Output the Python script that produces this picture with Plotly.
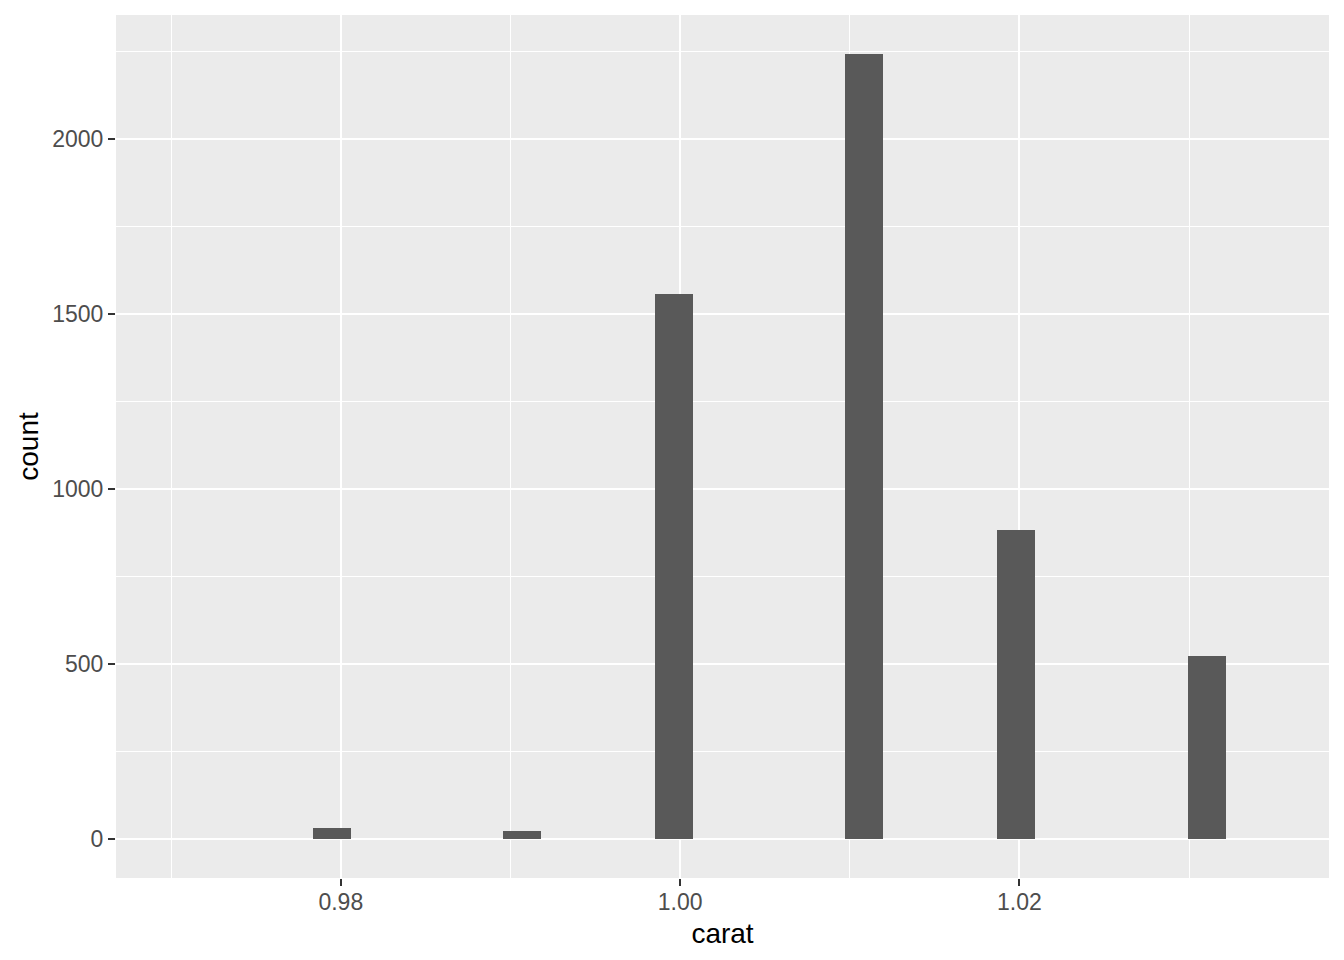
import plotly.graph_objects as go

# diamonds with carat between 0.97 and 1.035, counts per carat value
carat = [0.98, 0.99, 1.00, 1.01, 1.02, 1.03]
count = [31, 23, 1558, 2242, 883, 523]

# binning as ggplot stat_bin(bins = 30) over the limits 0.97 .. 1.035
x_lim = [0.97, 1.035]
n_bins = 30
bin_w = (x_lim[1] - x_lim[0]) / (n_bins - 1)
shift = int((x_lim[0] - bin_w / 2) // bin_w)
bin_start = bin_w / 2 + shift * bin_w

x_pad = (x_lim[1] - x_lim[0]) * 0.05
y_top = max(count)
y_pad = y_top * 0.05

font = "Liberation Sans, Arial, sans-serif"

hist = go.Histogram(
    x=carat,
    y=count,
    histfunc="sum",
    xbins=dict(start=bin_start, size=bin_w),
    marker=dict(color="#595959", line=dict(width=0)),
    hoverinfo="skip",
)

fig = go.Figure(data=[hist])

# the page body adds 8px, so margins are trimmed to land the panel where ggplot had it
fig.update_layout(
    width=1344,
    height=960,
    margin=dict(l=108, r=23, t=7, b=90),
    paper_bgcolor="white",
    plot_bgcolor="#EBEBEB",
    bargap=0,
    showlegend=False,
    font=dict(family=font, size=23, color="#4D4D4D"),
)

fig.update_xaxes(
    range=[x_lim[0] - x_pad, x_lim[1] + x_pad],
    tick0=0.98,
    dtick=0.02,
    tickformat=".2f",
    ticks="outside",
    ticklen=7,
    tickwidth=2,
    tickcolor="#333333",
    ticklabelstandoff=-4,
    showgrid=True,
    gridcolor="white",
    gridwidth=2,
    minor=dict(tick0=0.97, dtick=0.01, showgrid=True, gridcolor="white", gridwidth=1),
    zeroline=False,
    showline=False,
    title=dict(text="carat", font=dict(size=28, color="black"), standoff=9),
)

fig.update_yaxes(
    range=[-y_pad, y_top + y_pad],
    tick0=0,
    dtick=500,
    ticks="outside",
    ticklen=7,
    tickwidth=2,
    tickcolor="#333333",
    showgrid=True,
    gridcolor="white",
    gridwidth=2,
    minor=dict(tick0=250, dtick=500, showgrid=True, gridcolor="white", gridwidth=1),
    zeroline=False,
    showline=False,
    title=dict(text="count", font=dict(size=28, color="black"), standoff=5),
)

fig.write_html("out.html")
